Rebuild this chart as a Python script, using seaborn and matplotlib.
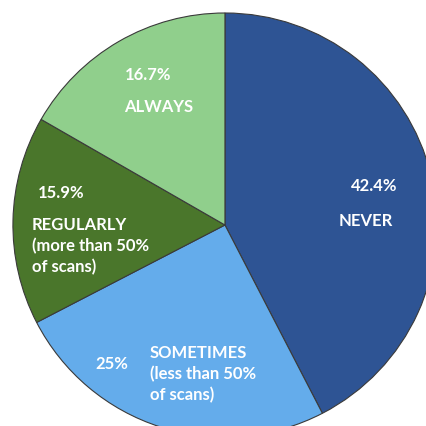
import matplotlib
matplotlib.use("Agg")
import matplotlib.pyplot as plt
import seaborn as sns

categories = ["NEVER", "SOMETIMES", "REGULARLY", "ALWAYS"]
values = [42.4, 25.0, 15.9, 16.7]
pct_labels = ["42.4%", "25%", "15.9%", "16.7%"]
cat_labels = ["NEVER", "SOMETIMES\n(less than 50%\nof scans)",
              "REGULARLY\n(more than 50%\nof scans)", "ALWAYS"]
colors = ["#2E5494", "#64ACEB", "#4A762B", "#90CF8C"]

sns.set_theme(style="white")
plt.rcParams['font.family'] = ['Lato', 'DejaVu Sans']

fig = plt.figure(figsize=(4.27, 4.27), dpi=100)
ax = fig.add_axes([0, 0, 1, 1])
ax.pie(values, colors=colors, startangle=90, counterclock=False,
       radius=1.0, center=(0, 0),
       wedgeprops=dict(edgecolor="#3a3a3a", linewidth=0.8))
ax.set_xlim(-1.061, 0.953)
ax.set_ylim(-0.948, 1.066)
ax.set_aspect("equal")
ax.axis("off")

# label positions (data coords)
pct_pos = [(0.703, 0.189), (-0.533, -0.651), (-0.774, 0.156), (-0.363, 0.712)]
cat_pos = [(0.665, 0.024, "center"), (-0.354, -0.698, "left"),
           (-0.910, -0.094, "left"), (-0.311, 0.561, "center")]

fs = 12
for (x, y), t in zip(pct_pos, pct_labels):
    ax.text(x, y, t, color="white", fontsize=fs, fontweight="bold",
            ha="center", va="center")
for (x, y, ha), t in zip(cat_pos, cat_labels):
    ax.text(x, y, t, color="white", fontsize=fs, fontweight="bold",
            ha=ha, va="center", linespacing=1.35, multialignment="left")

fig.savefig("out.png", dpi=100)
